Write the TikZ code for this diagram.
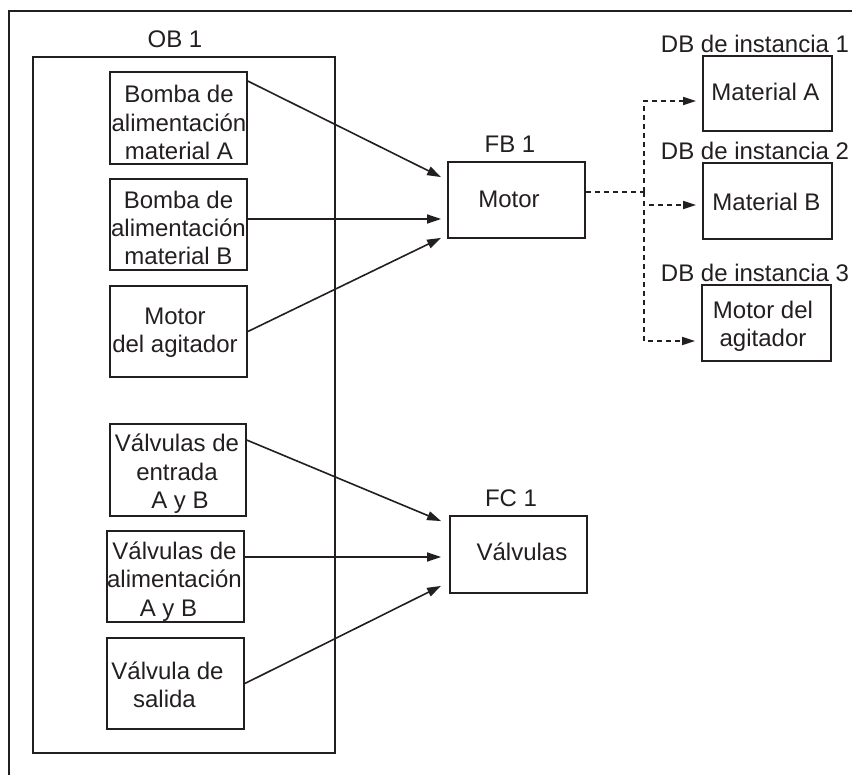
\documentclass[tikz,border=0pt]{standalone}
\usepackage{fontspec}
\setmainfont{Liberation Sans}
\usetikzlibrary{arrows.meta,calc}
\definecolor{ink}{RGB}{35,31,32}
\begin{document}
\begin{tikzpicture}[x=1pt,y=-1pt,
  every node/.style={text=ink},
  frame/.style={draw=ink,line width=1.8pt},
  box/.style={draw=ink,line width=1.8pt,inner sep=0pt,minimum width=137pt,minimum height=91pt},
  smallbox/.style={box,minimum height=76pt},
  dbbox/.style={box,minimum width=129pt,minimum height=76pt},
  txt/.style={font=\fontsize{24}{28.4}\selectfont,align=center,inner sep=0pt},
  title/.style={font=\fontsize{24}{28.4}\selectfont,inner sep=0pt,anchor=base},
  arr/.style={draw=ink,line width=1.6pt,-{Triangle[length=14pt,width=9pt]}},
  dsh/.style={draw=ink,line width=1.6pt,dash pattern=on 5pt off 4pt},
  darr/.style={dsh,-{Triangle[length=13pt,width=8pt]}}]
\useasboundingbox (0,0) rectangle (852,775);

% outer sheet border (top and left edges)
\draw[frame] (9,780) -- (9,11) -- (860,11);

% organisation block frame
\node[box,minimum width=302pt,minimum height=696pt] (ob) at (184,405) {};
\node[title] (obt) at (175,48) {OB 1};

% calling blocks inside OB 1
\node[box,minimum height=92pt] (b1) at (178.5,118) {};
\node[box] (b2) at (178.5,224.5) {};
\node[box] (b3) at (178.5,331.5) {};
\node[box,minimum width=136pt,minimum height=92pt] (b4) at (178,470) {};
\node[box] (b5) at (175.5,576.5) {};
\node[box] (b6) at (175.5,683.5) {};

\node[txt] (t1) at ($(b1)+(0.5,4.7)$) {Bomba de\\alimentación\\material A};
\node[txt] (t2) at ($(b2)+(0,3.5)$) {Bomba de\\alimentación\\material B};
\node[txt] (t3) at ($(b3)+(-3.5,1.3)$) {Motor\\del agitador};
\node[txt] (t4) at ($(b4)+(-1,4)$) {Válvulas de\\entrada\\\rule{6pt}{0pt}A y B};
\node[txt] (t5) at ($(b5)+(-1,5)$) {Válvulas de\\alimentación\\A y B\rule{12pt}{0pt}};
\node[txt] (t6) at ($(b6)+(-8,1.5)$) {Válvula de\\salida\rule{6pt}{0pt}};

% function block and function
\node[smallbox] (fb) at (516.5,200) {};
\node[title] (fbt) at (510,153) {FB 1};
\node[txt] (fbx) at ($(fb)+(-7.5,-0.7)$) {Motor};

\node[smallbox,minimum height=77pt] (fc) at (518.5,554.5) {};
\node[title] (fct) at (511,507) {FC 1};
\node[txt] (fcx) at ($(fc)+(3.5,-3)$) {Válvulas};

% instance data blocks
\node[dbbox,minimum height=75pt] (db1) at (767.5,93.5) {};
\node[dbbox] (db2) at (767.5,201) {};
\node[dbbox] (db3) at (766.5,323) {};
\node[title] (db1t) at (755,53) {DB de instancia 1};
\node[title] (db2t) at (755,160) {DB de instancia 2};
\node[title] (db3t) at (755,282) {DB de instancia 3};
\node[txt] (d1x) at ($(db1)+(-2,-2)$) {Material A};
\node[txt] (d2x) at ($(db2)+(-1,1)$) {Material B};
\node[txt] (d3x) at ($(db3)+(-3.5,3)$) {Motor del\\agitador};

% calls into FB 1
\draw[arr] ($(b1.north east)+(0,10)$) -- ($(fb.north west)+(-6,16)$);
\draw[arr] ($(b2.east)+(0,-5.5)$) -- ($(fb.west)+(-6,19)$);
\draw[arr] (b3.east) -- ($(fb.south west)+(-6,-1)$);

% calls into FC 1
\draw[arr] ($(b4.north east)+(0,17)$) -- ($(fc.north west)+(-8,6)$);
\draw[arr] ($(b5.east)+(0,-19.5)$) -- ($(fc.west)+(-8,2.5)$);
\draw[arr] (b6.east) -- ($(fc.south west)+(-8,-8)$);

% instance data links
\coordinate (split) at (644,192);
\draw[dsh] ($(fb.east)+(0,-8)$) -- (split);
\draw[darr] (split) |- ($(db1.west)+(-6,7.5)$);
\draw[darr] (split) |- ($(db2.west)+(-6,4)$);
\draw[darr] (split) |- ($(db3.west)+(-6,18)$);
\end{tikzpicture}
\end{document}
